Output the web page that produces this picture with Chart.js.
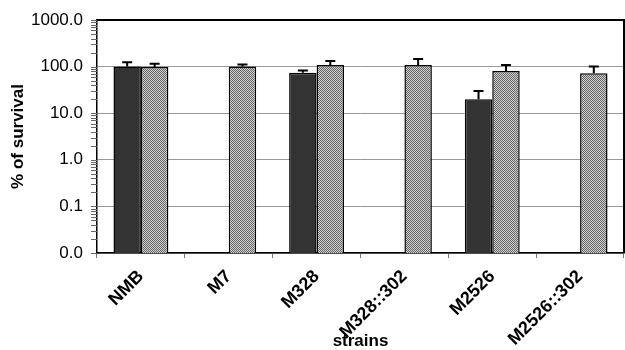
<!DOCTYPE html>
<html>
<head>
<meta charset="utf-8">
<script src="https://cdn.jsdelivr.net/npm/chart.js@4.4.0/dist/chart.umd.min.js"></script>
<style>
  html, body { margin: 0; padding: 0; background: #fff; }
  #wrap { width: 625px; height: 350px; }
</style>
</head>
<body>
<div id="wrap"><canvas id="survivalChart"></canvas></div>
<script>
'use strict'

// data
const strains = ['NMB', 'M7', 'M328', 'M328::302', 'M2526', 'M2526::302'];
const darkValues = [100, null, 74, null, 20, null];
const darkErrors = [24, null, 8, null, 10, null];
const hatchValues = [98, 100, 108, 108, 80, 72];
const hatchErrors = [17, 11, 24, 38, 28, 28];
const yMin = 0.01;
const yMax = 1000;

function isDecade(v) {
    const l = Math.log10(v);
    return Math.abs(l - Math.round(l)) < 1e-6;
}

function makePattern() {
    const c = document.createElement('canvas');
    c.width = 2;
    c.height = 2;
    const g = c.getContext('2d');
    g.fillStyle = '#cfcfcf';
    g.fillRect(0, 0, 2, 2);
    g.fillStyle = '#666666';
    g.fillRect(0, 0, 1, 1);
    g.fillRect(1, 1, 1, 1);
    return g.createPattern(c, 'repeat');
}

const errorBars = {
    id: 'errorBars',
    afterDatasetsDraw(chart) {
        const ctx = chart.ctx;
        const y = chart.scales.y;
        const errs = [darkErrors, hatchErrors];
        ctx.save();
        ctx.strokeStyle = '#000';
        ctx.lineWidth = 2;
        chart.data.datasets.forEach((ds, di) => {
            const meta = chart.getDatasetMeta(di);
            meta.data.forEach((bar, i) => {
                const v = ds.data[i];
                const e = errs[di][i];
                if (v == null || e == null) return;
                const top = y.getPixelForValue(v + e);
                ctx.beginPath();
                ctx.moveTo(bar.x, bar.y);
                ctx.lineTo(bar.x, top);
                ctx.moveTo(bar.x - 5, top);
                ctx.lineTo(bar.x + 5, top);
                ctx.stroke();
            });
        });
        ctx.restore();
    }
};

// top/right frame and the small log ticks on the y axis
const frame = {
    id: 'frame',
    afterDraw(chart) {
        const a = chart.chartArea;
        const ctx = chart.ctx;
        const y = chart.scales.y;
        ctx.save();
        ctx.strokeStyle = '#666';
        ctx.lineWidth = 1;
        y.ticks.forEach((t) => {
            const py = Math.round(y.getPixelForValue(t.value)) + 0.5;
            ctx.beginPath();
            ctx.moveTo(a.left - 6, py);
            ctx.lineTo(a.left, py);
            ctx.stroke();
        });
        ctx.strokeStyle = '#000';
        ctx.lineWidth = 2;
        ctx.beginPath();
        ctx.moveTo(a.left, a.top);
        ctx.lineTo(a.right, a.top);
        ctx.lineTo(a.right, a.bottom);
        ctx.stroke();
        ctx.restore();
    }
};

function renderChart() {
    const ctx = document.getElementById('survivalChart').getContext('2d');

    new Chart(ctx, {
        type: 'bar',
        data: {
            labels: strains,
            datasets: [
                {
                    label: 'dark',
                    data: darkValues,
                    backgroundColor: '#333333',
                    borderColor: '#000',
                    borderWidth: 1.5
                },
                {
                    label: 'hatched',
                    data: hatchValues,
                    backgroundColor: makePattern(),
                    borderColor: '#000',
                    borderWidth: 1.5
                }
            ]
        },
        options: {
            responsive: true,
            maintainAspectRatio: false,
            animation: false,
            layout: { padding: { top: 20, right: 1, left: 0, bottom: 0 } },
            datasets: {
                bar: { categoryPercentage: 0.625, barPercentage: 1 }
            },
            plugins: {
                legend: { display: false },
                tooltip: { enabled: false }
            },
            scales: {
                x: {
                    afterFit(scale) { scale.height = 97; },
                    grid: {
                        offset: true,
                        drawOnChartArea: false,
                        tickLength: 5,
                        color: '#777'
                    },
                    border: { color: '#000', width: 1.5 },
                    ticks: {
                        minRotation: 45,
                        maxRotation: 45,
                        padding: 8,
                        color: '#000',
                        font: { family: 'Liberation Sans', size: 18, weight: 'bold' }
                    },
                    title: {
                        display: true,
                        text: 'strains',
                        color: '#000',
                        padding: 0,
                        font: { family: 'Liberation Sans', size: 17, weight: 'bold', lineHeight: 1 }
                    }
                },
                y: {
                    type: 'logarithmic',
                    min: yMin,
                    max: yMax,
                    afterFit(scale) { scale.width = 97; },
                    afterBuildTicks(scale) {
                        // decades plus the 2..9 minor steps
                        const t = [];
                        for (let e = Math.log10(yMin); e < Math.log10(yMax); e++) {
                            for (let m = 1; m < 10; m++) {
                                t.push({ value: m * Math.pow(10, e) });
                            }
                        }
                        t.push({ value: yMax });
                        scale.ticks = t;
                    },
                    grid: {
                        color: (c) => (c.tick && isDecade(c.tick.value)) ? '#999' : 'rgba(0,0,0,0)',
                        tickColor: 'rgba(0,0,0,0)',
                        tickLength: 5
                    },
                    border: { color: '#000', width: 1.5 },
                    ticks: {
                        autoSkip: false,
                        padding: 9,
                        color: '#000',
                        font: { family: 'Liberation Sans', size: 17 },
                        callback: (v) => isDecade(v) ? Number(v).toFixed(1) : ''
                    },
                    title: {
                        display: true,
                        text: '% of survival',
                        color: '#000',
                        padding: 10,
                        font: { family: 'Liberation Sans', size: 17, weight: 'bold', lineHeight: 1 }
                    }
                }
            }
        },
        plugins: [errorBars, frame]
    });
}

renderChart();
</script>
</body>
</html>
